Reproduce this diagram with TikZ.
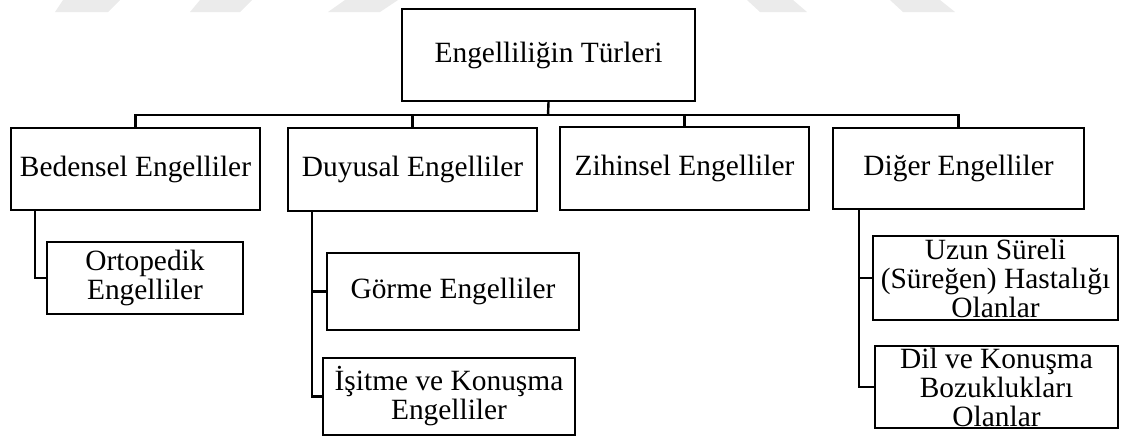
\documentclass[tikz,border=0pt]{standalone}
\usepackage{fontspec}
\setmainfont{Liberation Serif}
\begin{document}
\begin{tikzpicture}[x=1pt,y=-1pt,
  box/.style={draw=black, line width=2.4pt, rectangle, inner sep=0pt, align=center,
    font=\fontsize{29.4pt}{29pt}\selectfont},
  link/.style={draw=black, line width=2.4pt},
  wmshape/.style={fill=black!8, draw=none}]
\useasboundingbox (0,0) rectangle (1130,437);

% faint background shapes along the top edge
\fill[wmshape] (63,0) -- (120,0) -- (108,12) -- (55,12) -- cycle;
\fill[wmshape] (200,0) -- (252,0) -- (240,12) -- (190,12) -- cycle;
\fill[wmshape] (345,0) -- (398,0) -- (380,12) -- (328,12) -- cycle;
\fill[wmshape] (747,0) -- (793,0) -- (807,12) -- (760,12) -- cycle;
\fill[wmshape] (890,0) -- (940,0) -- (955,12) -- (903,12) -- cycle;

% root
\node[box, minimum width=293pt, minimum height=92pt] (top) at (548.5,55) {Engelliliğin Türleri};

% first level
\node[box, minimum width=249pt, minimum height=82pt] (bed) at (135.5,169) {Bedensel Engelliler};
\node[box, minimum width=249pt, minimum height=83pt] (duy) at (412.5,169.5) {Duyusal Engelliler};
\node[box, minimum width=249pt, minimum height=83pt] (zih) at (684.5,168.5) {Zihinsel Engelliler};
\node[box, minimum width=251pt, minimum height=81pt] (dig) at (958.5,168.5) {Diğer Engelliler};

% second level
\node[box, minimum width=196pt, minimum height=72pt] (ort) at (145,278) {Ortopedik\\Engelliler};
\node[box, minimum width=252pt, minimum height=77pt] (gor) at (453,291.5) {Görme Engelliler};
\node[box, minimum width=252pt, minimum height=77pt] (isi) at (449,396.5) {İşitme ve Konuşma\\Engelliler};
\node[box, minimum width=245pt, minimum height=84pt] (uzu) at (995.5,278) {Uzun Süreli\\(Süreğen) Hastalığı\\Olanlar};
\node[box, minimum width=243pt, minimum height=82pt] (dil) at (996.5,387) {Dil ve Konuşma\\Bozuklukları\\Olanlar};

% bus below the root
\coordinate (bus) at (548,115);
\draw[link] (top.south) -- (bus);
\draw[link] (bed.north) |- (bus) -| (dig.north);
\draw[link] (duy.north) -- (duy.north |- bus);
\draw[link] (zih.north) -- (zih.north |- bus);

% branches to the second level
\draw[link] ([xshift=25pt]bed.south west) |- (ort.west);
\draw[link] ([xshift=25pt]duy.south west) |- (gor.west);
\draw[link] ([xshift=25pt]duy.south west) |- (isi.west);
\draw[link] ([xshift=27pt]dig.south west) |- (uzu.west);
\draw[link] ([xshift=27pt]dig.south west) |- (dil.west);
\end{tikzpicture}
\end{document}
